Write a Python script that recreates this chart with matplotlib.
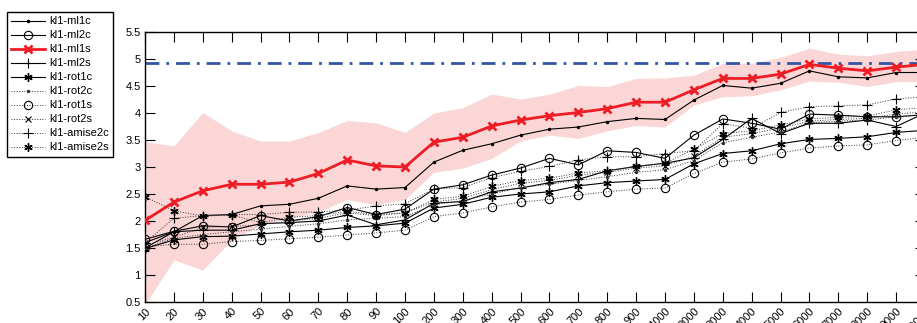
import matplotlib
matplotlib.use("Agg")
import matplotlib.pyplot as plt
import numpy as np

plt.rcParams['font.family'] = ['Liberation Sans', 'DejaVu Sans']

# sample sizes on the x axis (evenly spaced categories)
sizes = [10, 20, 30, 40, 50, 60, 70, 80, 90, 100,
         200, 300, 400, 500, 600, 700, 800, 900, 1000,
         2000, 3000, 4000, 5000, 6000, 7000, 8000, 9000, 10000]

ml1c = [1.60, 1.80, 2.10, 2.12, 2.28, 2.31, 2.42, 2.65, 2.59, 2.62,
        3.09, 3.31, 3.43, 3.59, 3.70, 3.74, 3.84, 3.90, 3.88,
        4.24, 4.51, 4.46, 4.55, 4.78, 4.67, 4.65, 4.75, 4.75]
ml2c = [1.66, 1.81, 1.91, 1.89, 2.10, 2.00, 2.08, 2.25, 2.12, 2.22,
        2.59, 2.67, 2.85, 2.98, 3.16, 3.04, 3.30, 3.27, 3.16,
        3.59, 3.89, 3.81, 3.70, 3.98, 3.96, 3.93, 3.93, 3.97]
ml1s = [2.01, 2.35, 2.56, 2.68, 2.68, 2.72, 2.88, 3.13, 3.02, 3.00,
        3.46, 3.55, 3.76, 3.87, 3.95, 4.01, 4.08, 4.20, 4.20,
        4.43, 4.64, 4.64, 4.72, 4.90, 4.83, 4.78, 4.85, 4.90]
ml1s_hi = [3.47, 3.39, 4.01, 3.67, 3.48, 3.48, 3.64, 3.86, 3.82, 3.64,
           4.00, 4.10, 4.35, 4.26, 4.35, 4.51, 4.49, 4.64, 4.65,
           4.70, 4.92, 4.92, 5.03, 5.20, 5.09, 5.06, 5.14, 5.18]
ml1s_lo = [0.45, 1.28, 1.09, 1.65, 1.93, 2.05, 2.17, 2.40, 2.30, 2.40,
           2.90, 2.98, 3.16, 3.48, 3.59, 3.53, 3.67, 3.77, 3.74,
           4.15, 4.30, 4.32, 4.43, 4.59, 4.57, 4.49, 4.58, 4.59]
ml2s = [1.50, 1.80, 1.83, 1.83, 1.95, 1.97, 2.00, 2.11, 1.93, 2.02,
        2.33, 2.36, 2.54, 2.61, 2.71, 2.77, 2.93, 3.01, 3.07,
        3.17, 3.51, 3.90, 3.62, 3.81, 3.81, 3.87, 3.75, 4.00]
rot1c = [1.49, 1.65, 1.71, 1.72, 1.76, 1.80, 1.83, 1.88, 1.91, 1.96,
         2.24, 2.31, 2.44, 2.50, 2.54, 2.65, 2.71, 2.74, 2.77,
         3.06, 3.25, 3.30, 3.43, 3.51, 3.53, 3.56, 3.64, 3.68]
rot2c = [1.50, 1.68, 1.75, 1.80, 1.85, 1.90, 1.95, 2.02, 2.05, 2.08,
         2.30, 2.38, 2.50, 2.62, 2.68, 2.75, 2.82, 2.90, 2.95,
         3.12, 3.45, 3.55, 3.65, 3.82, 3.85, 3.87, 3.93, 3.97]
rot1s = [1.52, 1.57, 1.57, 1.62, 1.64, 1.67, 1.70, 1.74, 1.78, 1.83,
         2.08, 2.15, 2.26, 2.35, 2.40, 2.48, 2.54, 2.59, 2.61,
         2.88, 3.09, 3.15, 3.26, 3.35, 3.39, 3.41, 3.49, 3.55]
rot2s = [1.55, 1.70, 1.88, 1.90, 1.93, 2.00, 2.05, 2.15, 2.10, 2.15,
         2.35, 2.42, 2.58, 2.70, 2.75, 2.85, 2.90, 2.98, 3.02,
         3.20, 3.55, 3.62, 3.72, 3.85, 3.88, 3.90, 3.98, 4.02]
amise2c = [1.60, 2.05, 2.10, 2.12, 2.12, 2.16, 2.17, 2.20, 2.28, 2.32,
           2.59, 2.62, 2.80, 2.92, 3.01, 3.13, 3.19, 3.19, 3.25,
           3.30, 3.80, 3.72, 4.01, 4.12, 4.13, 4.15, 4.26, 4.30]
amise2s = [2.45, 2.19, 2.09, 2.11, 1.97, 2.07, 2.10, 2.18, 2.12, 2.15,
           2.40, 2.46, 2.64, 2.75, 2.79, 2.89, 2.93, 3.01, 3.07,
           3.33, 3.62, 3.67, 3.78, 3.89, 3.92, 3.94, 4.06, 4.10]
reference_level = 4.92

x = np.arange(len(sizes))

fig = plt.figure(figsize=(9.17, 3.23), dpi=100)
ax = fig.add_axes([145 / 917, 21 / 323, 780 / 917, 270 / 323])

ax.fill_between(x, ml1s_lo, ml1s_hi, color='#fbd6d6', lw=0, zorder=1)
ax.axhline(reference_level, color='#3355a5', lw=2, ls=(0, (5, 2.5, 1, 2.5)), zorder=2)

k = 'black'
dot = '#333333'
star = (6, 2, 0)
ax.plot(x, ml1c, '-', color=k, lw=0.8, marker='.', ms=3, label='kl1-ml1c', zorder=3)
ax.plot(x, ml2c, '-', color=k, lw=0.8, marker='o', ms=6, mfc='none', mew=0.8,
        label='kl1-ml2c', zorder=3)
ax.plot(x, ml1s, '-', color='#ee1c24', lw=2, marker='x', ms=6, mew=2,
        label='kl1-ml1s', zorder=5)
ax.plot(x, ml2s, '-', color=k, lw=0.8, marker='+', ms=7, mew=0.8, label='kl1-ml2s', zorder=3)
ax.plot(x, rot1c, '-', color=k, lw=0.8, marker=star, ms=6, mew=1,
        label='kl1-rot1c', zorder=3)
ax.plot(x, rot2c, ':', color=dot, lw=0.7, marker='.', ms=3, label='kl1-rot2c', zorder=3)
ax.plot(x, rot1s, ':', color=dot, lw=0.7, marker='o', ms=6, mfc='none', mew=0.8,
        mec=k, label='kl1-rot1s', zorder=3)
ax.plot(x, rot2s, ':', color=dot, lw=0.7, marker='x', ms=4, mew=0.8, mec=k,
        label='kl1-rot2s', zorder=3)
ax.plot(x, amise2c, ':', color=dot, lw=0.7, marker='+', ms=7, mew=0.8, mec=k,
        label='kl1-amise2c', zorder=3)
ax.plot(x, amise2s, ':', color=dot, lw=0.7, marker=star, ms=6, mew=1, mec=k,
        label='kl1-amise2s', zorder=3)

ax.set_xlim(0, len(sizes) - 1)
ax.set_ylim(0.5, 5.5)
ax.set_xticks(x)
ax.set_xticklabels([str(s) for s in sizes], rotation=45, ha='right',
                   rotation_mode='anchor', fontsize=8)
yt = np.arange(0.5, 5.51, 0.5)
ax.set_yticks(yt)
ax.set_yticklabels(['%g' % v for v in yt], fontsize=8)
ax.tick_params(direction='in', length=7, width=0.8, top=True, right=True, pad=3)
for s in ax.spines.values():
    s.set_linewidth(1)

leg = fig.legend(loc='upper left', bbox_to_anchor=(7 / 917, 1 - 12 / 323),
                 fontsize=8, labelspacing=0.36, handlelength=3.0, handletextpad=0.4,
                 borderpad=0.4, borderaxespad=0, fancybox=False, framealpha=1)
leg.get_frame().set_edgecolor('black')
leg.get_frame().set_linewidth(1)

fig.savefig('out.png', dpi=100)
